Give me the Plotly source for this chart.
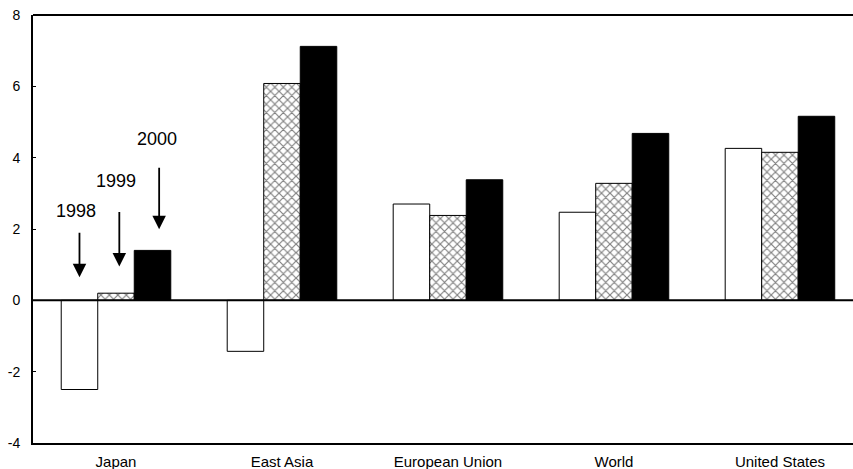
import plotly.graph_objects as go

categories = ["Japan", "East Asia", "European Union", "World", "United States"]
v1998 = [-2.5, -1.43, 2.7, 2.47, 4.26]
v1999 = [0.2, 6.08, 2.38, 3.28, 4.15]
v2000 = [1.4, 7.12, 3.38, 4.68, 5.16]
yticks = [-4, -2, 0, 2, 4, 6, 8]
yticklabels = ["-4", "-2", "0", "2", "4", "6", "8"]

font = "Liberation Sans, Arial, sans-serif"
line = dict(color="black", width=1)

fig = go.Figure()
fig.add_bar(x=categories, y=v1998, name="1998", marker=dict(color="white", line=line))
fig.add_bar(x=categories, y=v1999, name="1999",
            marker=dict(color="white", line=line,
                        pattern=dict(shape="x", fgcolor="black", bgcolor="white", size=6, solidity=0.35)))
fig.add_bar(x=categories, y=v2000, name="2000", marker=dict(color="black", line=line))

labels = [("1998", -0.24, 2.5, -0.22, 0.65, -46),
          ("1999", 0.0, 3.34, 0.02, 0.95, -56),
          ("2000", 0.25, 4.51, 0.26, 1.99, -63)]
for txt, tx, ty, ax_, ay_, off in labels:
    fig.add_annotation(x=tx, y=ty, text=txt, showarrow=False, xref="x", yref="y",
                       font=dict(family=font, size=18, color="black"))
    fig.add_annotation(x=ax_, y=ay_, text="", showarrow=True, ax=0, ay=off,
                       xref="x", yref="y", arrowhead=2, arrowsize=1.5, arrowwidth=1.8,
                       arrowcolor="black")

fig.add_shape(type="line", xref="paper", yref="y", x0=0, x1=1, y0=0, y1=0,
              line=dict(color="black", width=2))
fig.add_shape(type="line", xref="paper", yref="paper", x0=0, x1=1, y0=1, y1=1,
              line=dict(color="black", width=2))

fig.update_layout(
    width=853, height=469,
    margin=dict(l=33, r=0, t=15, b=26),
    paper_bgcolor="white", plot_bgcolor="white",
    barmode="group", bargap=0.34, bargroupgap=0,
    showlegend=False,
    font=dict(family=font, size=14, color="black"),
)
fig.update_xaxes(range=[-0.5, 4.44], showline=True, linecolor="black", linewidth=2,
                 ticks="", showgrid=False, tickfont=dict(size=15), ticklabelstandoff=4)
fig.update_yaxes(range=[-4, 8], tickvals=yticks, ticktext=yticklabels, showline=True,
                 linecolor="black", linewidth=2, ticks="inside", ticklen=3, tickcolor="black",
                 showgrid=False, zeroline=False, tickfont=dict(size=14), ticklabelstandoff=8)

fig.write_html("out.html", config={"displayModeBar": False},
               post_script="document.body.style.margin='0';")
